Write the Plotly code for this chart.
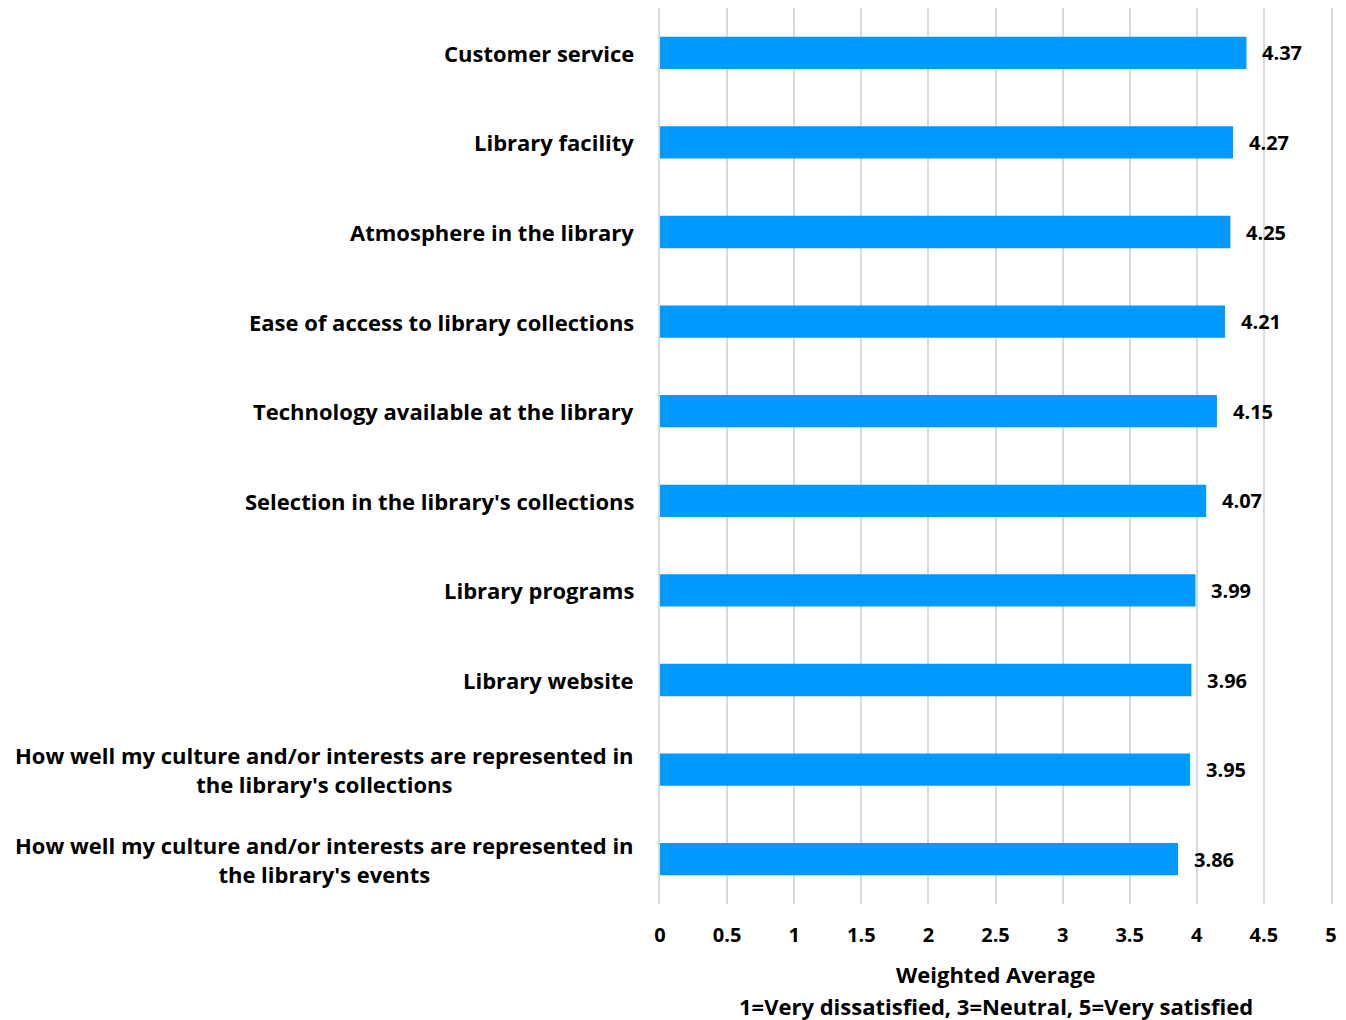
import plotly.graph_objects as go

categories = [
    "Customer service",
    "Library facility",
    "Atmosphere in the library",
    "Ease of access to library collections",
    "Technology available at the library",
    "Selection in the library's collections",
    "Library programs",
    "Library website",
    "How well my culture and/or interests are represented in<br>the library's collections",
    "How well my culture and/or interests are represented in<br>the library's events",
]
values = [4.37, 4.27, 4.25, 4.21, 4.15, 4.07, 3.99, 3.96, 3.95, 3.86]
x_ticks = [0, 0.5, 1, 1.5, 2, 2.5, 3, 3.5, 4, 4.5, 5]
x_tick_labels = ["0", "0.5", "1", "1.5", "2", "2.5", "3", "3.5", "4", "4.5", "5"]
x_title_lines = ["Weighted Average", "1=Very dissatisfied, 3=Neutral, 5=Very satisfied"]

FONT = "Open Sans"
BAR = "#0099FF"
GRID = "#D9D9D9"

fig = go.Figure(go.Bar(
    x=values, y=categories, orientation="h",
    marker=dict(color=BAR, line=dict(width=0)),
    width=0.36, hoverinfo="skip",
))

annotations = []
for c, v in zip(categories, values):
    annotations.append(dict(
        x=v, y=c, xref="x", yref="y", text=f"<b>{v:.2f}</b>",
        showarrow=False, xanchor="left", xshift=14,
        font=dict(family=FONT, size=20, color="#000000"),
    ))
    annotations.append(dict(
        x=0, y=c, xref="paper", yref="y", text=f"<b>{c}</b>",
        showarrow=False, xanchor="right", align="center", xshift=-24,
        font=dict(family=FONT, size=22, color="#000000"),
    ))

for i, (line, shift) in enumerate(zip(x_title_lines, [-70, -102])):
    annotations.append(dict(
        x=0.5, y=0, xref="paper", yref="paper", text=f"<b>{line}</b>",
        showarrow=False, xanchor="center", yanchor="middle", yshift=shift,
        font=dict(family=FONT, size=22, color="#000000"),
    ))

fig.update_layout(
    width=1346, height=1020,
    margin=dict(l=660, r=15, t=8, b=116),
    plot_bgcolor="white", paper_bgcolor="white",
    showlegend=False,
    font=dict(family=FONT, color="#000000"),
    xaxis=dict(
        range=[0, 5], tickvals=x_ticks,
        ticktext=[f"<b>{t}</b>" for t in x_tick_labels],
        showgrid=True, gridcolor=GRID, gridwidth=2,
        zeroline=False, showline=False, ticks="",
        tickfont=dict(family=FONT, size=20, color="#000000"),
        ticklabelstandoff=17,
    ),
    yaxis=dict(
        categoryorder="array", categoryarray=categories[::-1],
        showticklabels=False, showgrid=False, zeroline=False,
        showline=True, mirror=True, linecolor=GRID, linewidth=2, ticks="",
    ),
    annotations=annotations,
)

fig.write_html("out.html")
